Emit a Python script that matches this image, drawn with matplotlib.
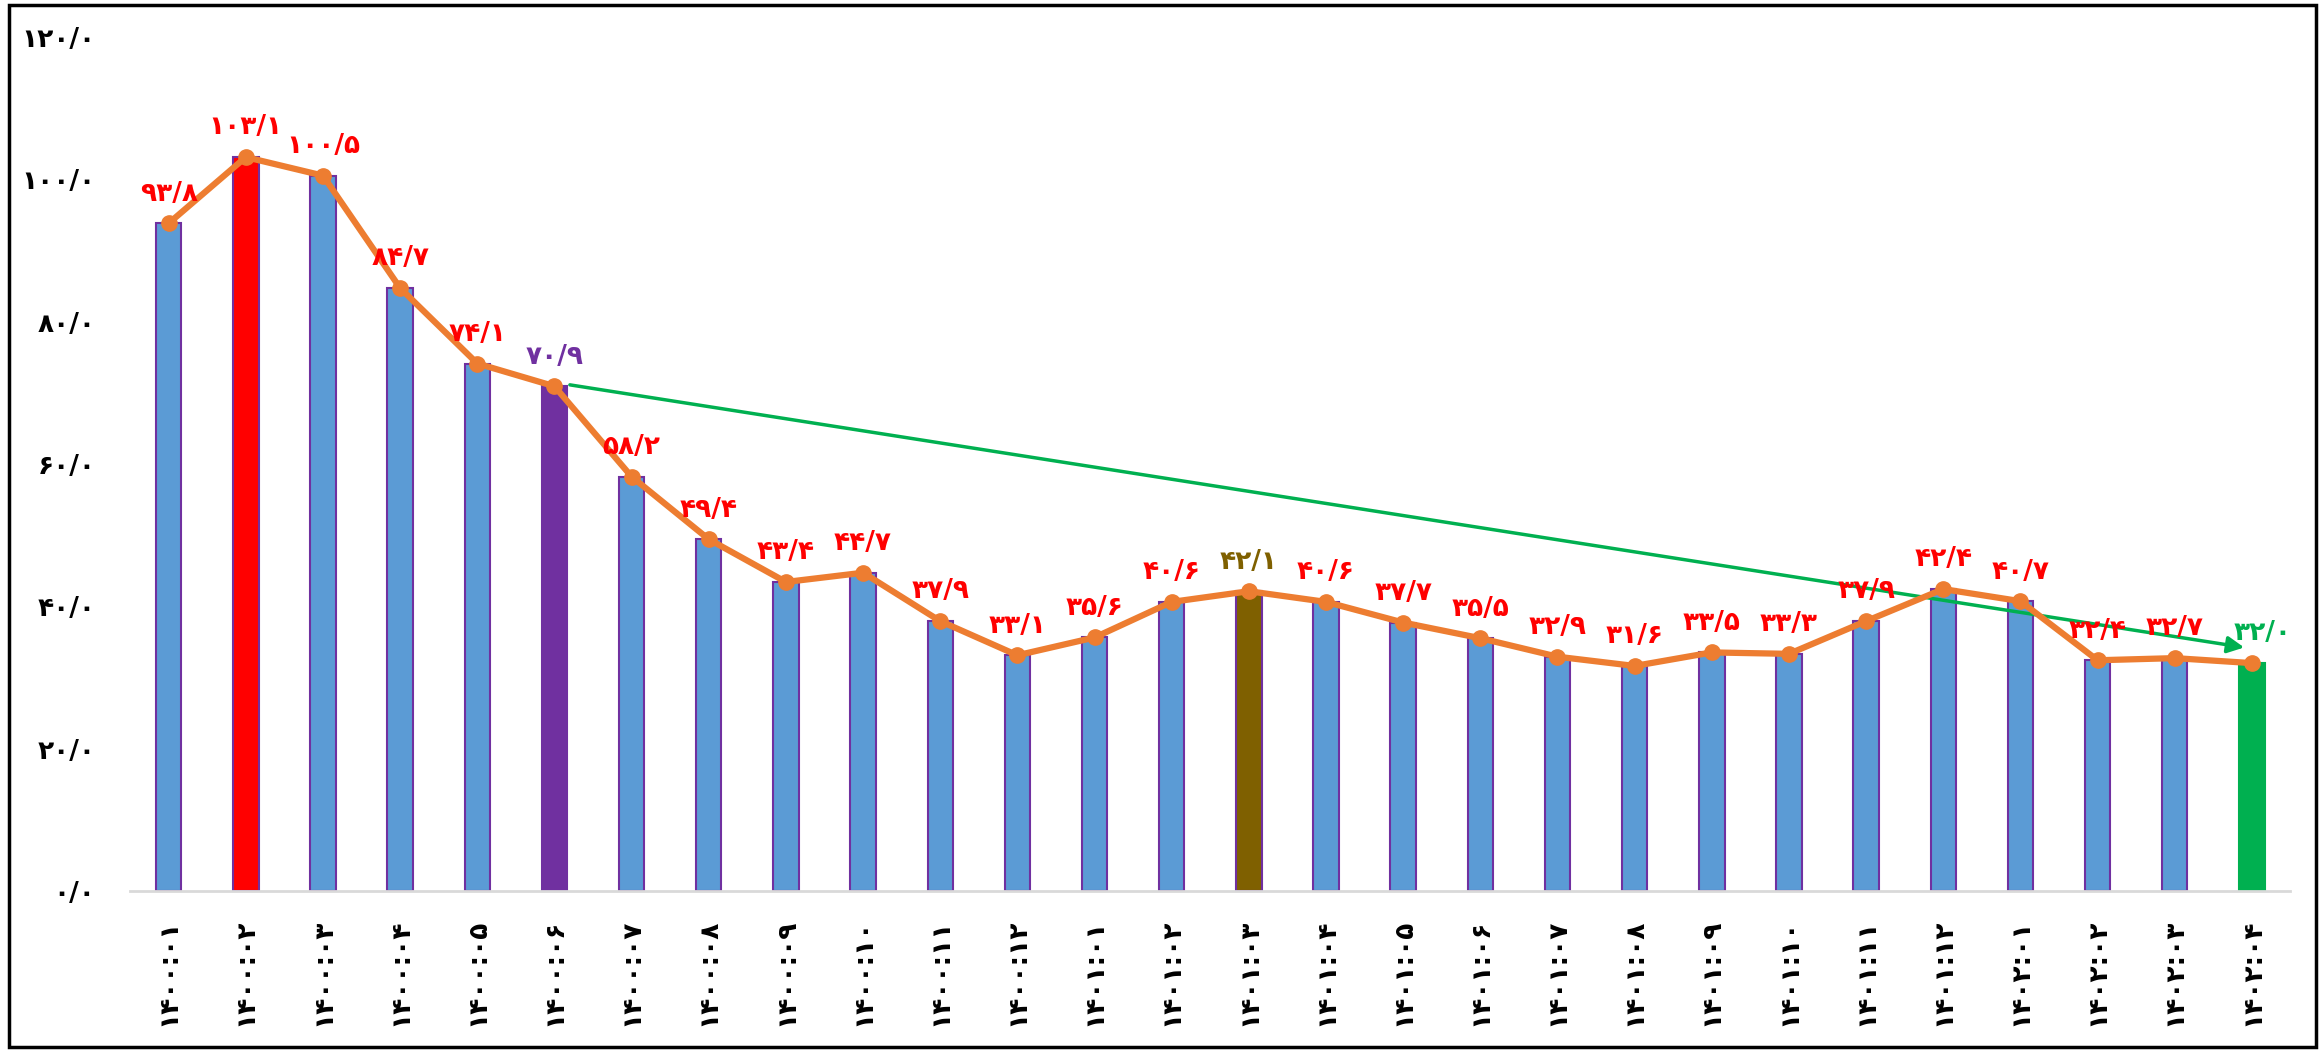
import matplotlib
matplotlib.use('Agg')
import matplotlib.pyplot as plt
from matplotlib.patches import Rectangle
import numpy as np

# monthly periods (Persian calendar) and values
periods = ['1400:01', '1400:02', '1400:03', '1400:04', '1400:05', '1400:06',
           '1400:07', '1400:08', '1400:09', '1400:10', '1400:11', '1400:12',
           '1401:01', '1401:02', '1401:03', '1401:04', '1401:05', '1401:06',
           '1401:07', '1401:08', '1401:09', '1401:10', '1401:11', '1401:12',
           '1402:01', '1402:02', '1402:03', '1402:04']
values = [93.8, 103.1, 100.5, 84.7, 74.1, 70.9, 58.2, 49.4, 43.4, 44.7,
          37.9, 33.1, 35.6, 40.6, 42.1, 40.6, 37.7, 35.5, 32.9, 31.6,
          33.5, 33.3, 37.9, 42.4, 40.7, 32.4, 32.7, 32.0]
y_ticks = [0, 20, 40, 60, 80, 100, 120]

BLUE = '#5B9BD5'
PURPLE = '#7030A0'
RED = '#FF0000'
BROWN = '#7F6000'
GREEN = '#00B050'
ORANGE = '#ED7D31'

# highlighted bars: index -> (bar colour, label colour)
highlight = {1: (RED, RED), 5: (PURPLE, PURPLE), 14: (BROWN, BROWN),
             27: (GREEN, GREEN)}

PERSIAN = str.maketrans('0123456789', '۰۱۲۳۴۵۶۷۸۹')


def fa(text):
    return str(text).translate(PERSIAN)


def fa_num(v):
    return fa(f'{v:.1f}').replace('.', '/')


fig = plt.figure(figsize=(23.23, 10.53), dpi=100)
ax = fig.add_axes([0.056, 0.154, 0.930, 0.811])

x = np.arange(len(values))
bar_colors = [highlight.get(i, (BLUE, RED))[0] for i in x]
edge_colors = [GREEN if i == 27 else PURPLE for i in x]
ax.bar(x, values, width=0.33, color=bar_colors, edgecolor=edge_colors,
       linewidth=1.5, zorder=2)
ax.plot(x, values, color=ORANGE, lw=4.5, marker='o', markersize=11, zorder=4)

for i, v in enumerate(values):
    color = highlight.get(i, (BLUE, RED))[1]
    dx = 8 if i == 27 else 0
    ax.annotate(fa_num(v), (i, v), xytext=(dx, 12), textcoords='offset points',
                ha='center', va='bottom', color=color, fontsize=19,
                fontweight='bold', zorder=5)

# trend arrow from the 1400:06 value to the latest value
ax.annotate('', xy=(26.9, 34.2), xytext=(5.2, 71.1),
            arrowprops=dict(arrowstyle='-|>', color=GREEN, lw=2.5,
                            mutation_scale=25, shrinkA=0, shrinkB=0),
            zorder=3)

ax.set_xlim(-0.5, len(values) - 0.5)
ax.set_ylim(0, 120)
ax.set_yticks(y_ticks)
ax.set_yticklabels([fa_num(t) for t in y_ticks], fontsize=19,
                   fontweight='bold')
ax.set_xticks(x)
ax.set_xticklabels([fa(p) for p in periods], rotation=90, fontsize=19,
                   fontweight='bold')
ax.tick_params(axis='both', length=0)
ax.tick_params(axis='y', pad=25)
ax.tick_params(axis='x', pad=20)
for side in ['top', 'right', 'left']:
    ax.spines[side].set_visible(False)
ax.spines['bottom'].set_color('#D9D9D9')
ax.spines['bottom'].set_linewidth(2)

fig.patches.append(Rectangle((0.004, 0.006), 0.993, 0.989,
                             transform=fig.transFigure, fill=False,
                             edgecolor='black', lw=2.5))

fig.savefig('out.png', dpi=100)
